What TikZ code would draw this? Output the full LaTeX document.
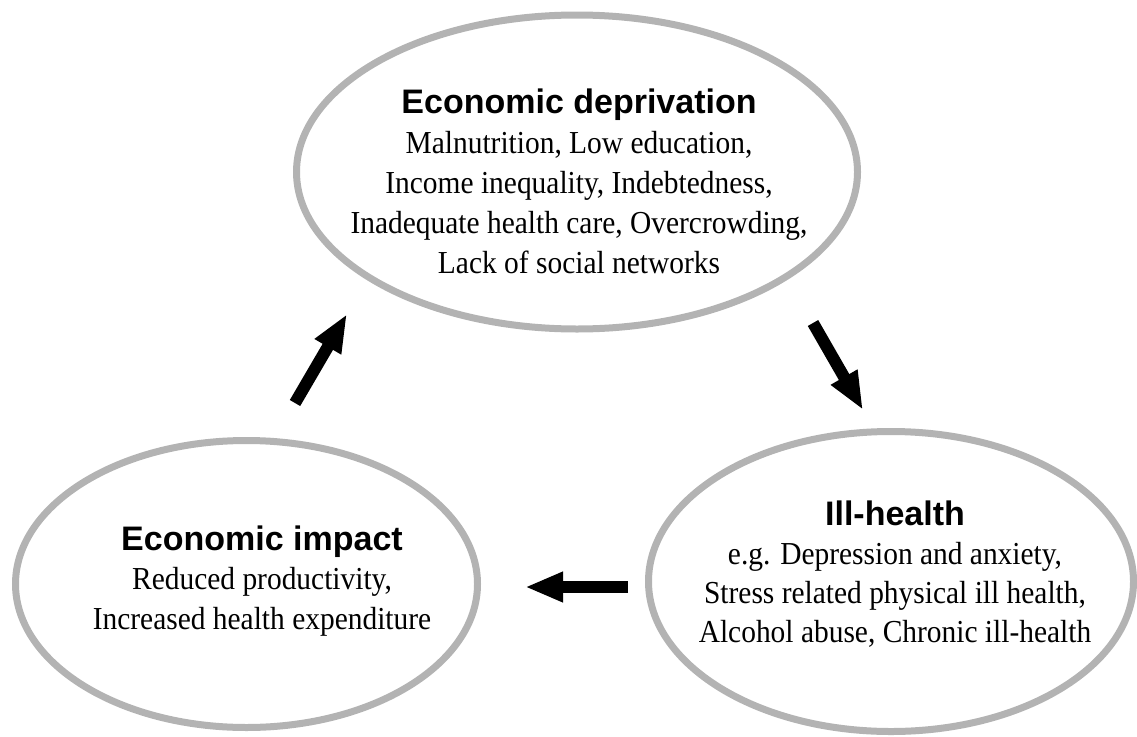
\documentclass[tikz,border=0pt]{standalone}
\usepackage{fontspec}
\setmainfont{Liberation Serif}[FakeStretch=0.92]
\newfontfamily\headfont{Liberation Sans}
\usetikzlibrary{shapes.geometric, arrows.meta}
\definecolor{ringgray}{HTML}{B3B3B3}
\tikzset{
  ring/.style={ellipse, draw=ringgray, line width=7pt, inner sep=0pt},
  head/.style={anchor=base, inner sep=0pt, font=\headfont\bfseries\fontsize{34}{40}\selectfont},
  body/.style={anchor=base, inner sep=0pt, font=\fontsize{32}{40}\selectfont},
  flow/.style={line width=12pt, -{Triangle[length=38pt, width=28pt]}},
}

\begin{document}
\begin{tikzpicture}[x=1pt, y=-1pt]
      \useasboundingbox (0, 0) rectangle (1137, 736);
      % the three rings
      \node[ring, minimum width=561, minimum height=314] (depr) at (577, 172) {};
      \node[ring, minimum width=462, minimum height=287] (impact) at (246.5, 584) {};
      \node[ring, minimum width=485, minimum height=300] (ill) at (891, 581.5) {};
      % texts
      \node[head] (depr-head) at (579, 113) {Economic deprivation};
      \foreach \txt [count=\i] in {{Malnutrition, Low education,}, {Income inequality, Indebtedness,},
          {Inadequate health care, Overcrowding,}, {Lack of social networks}} {
        \node[body] (depr-\i) at (579, {113+40*\i}) {\txt};
      }
      \node[head] (ill-head) at (895, 525) {Ill-health};
      \foreach \txt [count=\i] in {{e.g. Depression and anxiety,}, {Stress related physical ill health,},
          {Alcohol abuse, Chronic ill-health}} {
        \node[body] (ill-\i) at (895, {525+39.3*\i}) {\txt};
      }
      \node[head] (impact-head) at (262, 550) {Economic impact};
      \foreach \txt [count=\i] in {{Reduced productivity,}, {Increased health expenditure}} {
        \node[body] (impact-\i) at (262, {550+39.5*\i}) {\txt};
      }
      % arrows between the rings
      \coordinate (depr-out) at (813, 323);
      \coordinate (ill-in) at (863, 410);
      \coordinate (ill-out) at (628, 587);
      \coordinate (impact-in) at (525, 587);
      \coordinate (impact-out) at (295, 403);
      \coordinate (depr-in) at (347, 314);
      \draw[flow] (depr-out) -- (ill-in);
      \draw[flow] (ill-out) -- (impact-in);
      \draw[flow] (impact-out) -- (depr-in);
    \end{tikzpicture}
\end{document}
